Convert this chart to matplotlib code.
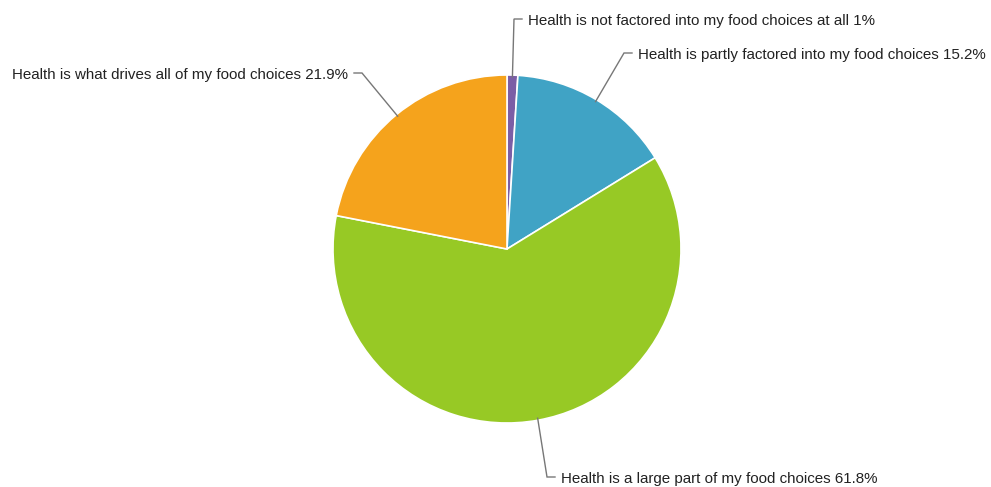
import numpy as np
import matplotlib
matplotlib.use("Agg")
import matplotlib.pyplot as plt

plt.rcParams['font.family'] = ['Liberation Sans', 'DejaVu Sans']

labels = ["Health is not factored into my food choices at all",
          "Health is partly factored into my food choices",
          "Health is a large part of my food choices",
          "Health is what drives all of my food choices"]
values = [1, 15.2, 61.8, 21.9]
pct_text = ["1%", "15.2%", "61.8%", "21.9%"]
colors = ["#7b5ea6", "#40a3c5", "#97c925", "#f5a31c"]

W, H = 991, 487
# pie placement and label elbows, in pixel coords (y from top)
cx, cy, R = 507, 249, 174
elbows = [(514, 19, 'r'), (624, 53, 'r'), (547, 477, 'r'), (362, 73, 'l')]

fig = plt.figure(figsize=(W / 100, H / 100), dpi=100)
ax = fig.add_axes([0, 0, 1, 1])

wedges, _ = ax.pie(values, colors=colors, startangle=90, counterclock=False,
                   center=(cx, H - cy), radius=R,
                   wedgeprops=dict(edgecolor='white', linewidth=1.2))
ax.set_xlim(0, W)
ax.set_ylim(0, H)
ax.set_aspect('equal')
ax.axis('off')

for w, lab, pct, (ex, ey, side) in zip(wedges, labels, pct_text, elbows):
    mid = np.deg2rad((w.theta1 + w.theta2) / 2)
    sx = cx + (R - 2) * np.cos(mid)
    sy = H - cy + (R - 2) * np.sin(mid)
    ey = H - ey
    hx = ex + 8 if side == 'r' else ex - 8
    ax.plot([sx, ex, hx], [sy, ey, ey], color='#777777', lw=1.0,
            solid_joinstyle='miter')
    tx = hx + 6 if side == 'r' else hx - 6
    ax.text(tx, ey - 2.5, lab + " " + pct, fontsize=10.9, color='#222222',
            ha='left' if side == 'r' else 'right', va='center')

fig.savefig("out.png", dpi=100, facecolor='white')
